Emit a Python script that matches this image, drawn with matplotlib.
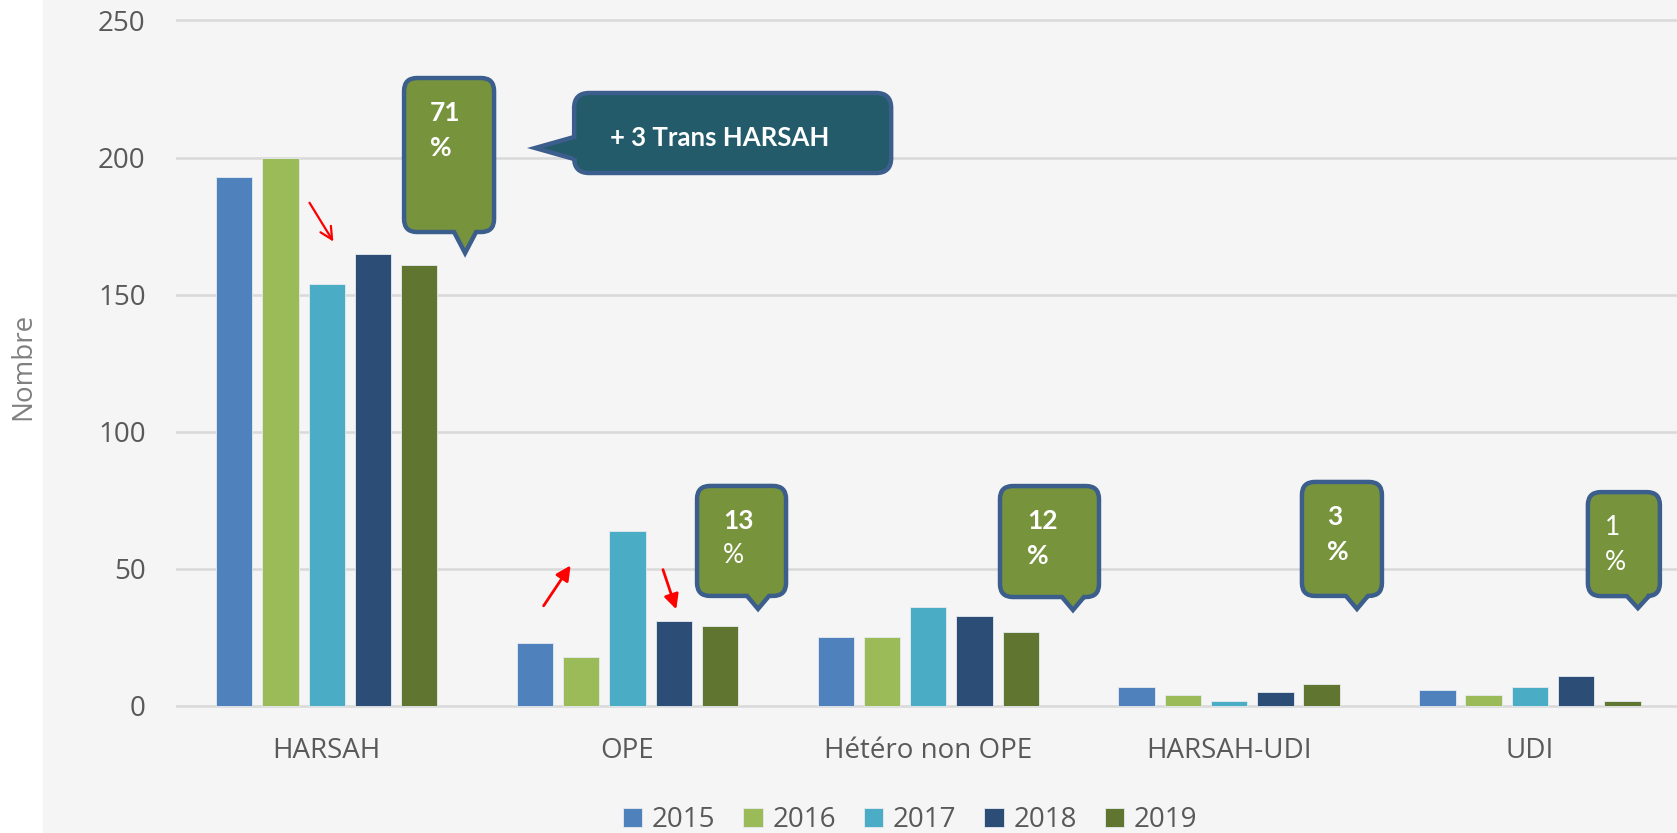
import matplotlib
matplotlib.use('Agg')
import matplotlib.pyplot as plt
import numpy as np
from matplotlib.path import Path
from matplotlib.patches import PathPatch, Rectangle
import matplotlib.transforms as mtransforms

# data
categories = ['HARSAH', 'OPE', 'Hétéro non OPE', 'HARSAH-UDI', 'UDI']
years = ['2015', '2016', '2017', '2018', '2019']
v2015 = [193, 23, 25, 7, 6]
v2016 = [200, 18, 25, 4, 4]
v2017 = [154, 64, 36, 2, 7]
v2018 = [165, 31, 33, 5, 11]
v2019 = [161, 29, 27, 8, 2]
shares = [71, 13, 12, 3, 1]   # % in the green bubbles
note = '+ 3 Trans HARSAH'

colors = ['#4f81bd', '#9bbb59', '#4bacc6', '#2c4d75', '#5f7530']
series = [v2015, v2016, v2017, v2018, v2019]

W, H = 1677, 833
fig = plt.figure(figsize=(W / 100, H / 100), dpi=100, facecolor='white')
# grey background, white strip on the left
fig.patches.append(Rectangle((43 / W, 0), 1, 1, transform=fig.transFigure,
                             color='#f5f5f5', zorder=-10))

# axes: 0 at y=706px, 250 at y=20.5px, x=-0.5 at 176px
ppu = (706 - 20.5) / 250.0
y_lo, y_hi = -1, 255
ax_bottom = H - (706 + ppu * (0 - y_lo))
ax_top = H - (706 - ppu * y_hi)
ax = fig.add_axes([176.3 / W, ax_bottom / H, (W - 176.3) / W, (ax_top - ax_bottom) / H])
ax.set_facecolor('none')
ax.set_xlim(-0.5, (W - 326.7) / 300.8)
ax.set_ylim(y_lo, y_hi)

x = np.arange(len(categories))
pitch = 0.1536
for j, (vals, c, yr) in enumerate(zip(series, colors, years)):
    ax.bar(x + (j - 2) * pitch, vals, width=0.121, color=c, label=yr,
           edgecolor='#e6ebf0', linewidth=0.6, zorder=3)

ax.set_yticks([0, 50, 100, 150, 200, 250])
ax.set_xticks(x)
ax.set_xticklabels(categories)
ax.yaxis.grid(True, color='#d9d9d9', linewidth=1.8)
ax.set_axisbelow(True)
for s in ax.spines.values():
    s.set_visible(False)
ax.tick_params(length=0, labelsize=20, labelcolor='#595959')
ax.tick_params(axis='y', pad=22)
ax.tick_params(axis='x', pad=20)
for lab in ax.get_xticklabels() + ax.get_yticklabels():
    lab.set_fontfamily('Open Sans')

fig.text(23 / W, 1 - 366 / H, 'Nombre', rotation=90, ha='center', va='center',
         fontsize=20, color='#808080', family='Open Sans')

leg = fig.legend(loc='center', bbox_to_anchor=(910 / W, 1 - 820 / H), ncol=5,
                 frameon=False, handlelength=0.7, handleheight=0.7,
                 handletextpad=0.35, columnspacing=1.0,
                 prop={'family': 'Open Sans', 'size': 20})
for t in leg.get_texts():
    t.set_color('#595959')

# red trend arrows (data coords)
ax.annotate('', xy=(0.027, 168.5), xytext=(-0.062, 184.4),
            arrowprops=dict(arrowstyle='->', color='red', lw=1.6, mutation_scale=22))
ax.annotate('', xy=(0.816, 52.1), xytext=(0.716, 35.7),
            arrowprops=dict(arrowstyle='-|>', color='red', lw=2, mutation_scale=22))
ax.annotate('', xy=(1.165, 34.3), xytext=(1.115, 50.7),
            arrowprops=dict(arrowstyle='-|>', color='red', lw=2, mutation_scale=22))

px2fig = mtransforms.Affine2D().scale(1.0 / W, 1.0 / H) + fig.transFigure


def to_px(xd, yd):
    disp = ax.transData.transform((xd, yd))
    return disp[0] * W / fig.bbox.width, disp[1] * H / fig.bbox.height


def bubble(L, R, B, T, r, tail, side):
    # rounded box in px (y up), tail = (base1, tip, base2) inserted on one side
    verts, codes = [], []

    def mv(p):
        verts.append(p); codes.append(Path.MOVETO)

    def ln(p):
        verts.append(p); codes.append(Path.LINETO)

    def cv(c, p):
        verts.extend([c, p]); codes.extend([Path.CURVE3, Path.CURVE3])

    mv((L + r, B))
    if side == 'bottom':
        for p in tail:
            ln(p)
    ln((R - r, B))
    cv((R, B), (R, B + r))
    ln((R, T - r))
    cv((R, T), (R - r, T))
    ln((L + r, T))
    cv((L, T), (L, T - r))
    if side == 'left':
        for p in tail:
            ln(p)
    ln((L, B + r))
    cv((L, B), (L + r, B))
    verts.append((L + r, B)); codes.append(Path.CLOSEPOLY)
    return Path(verts, codes)


edge = '#3b5e8c'
green = '#77933c'
tips = [(0.46, 165.2), (1.434, 35.4), (2.481, 35.0), (3.425, 35.4), (4.359, 35.7)]
boxes = [(-61, 29, 175, 21), (-61, 28, 123, 13), (-73, 26, 124, 13),
         (-55, 25, 127, 13), (-50, 22, 116, 12)]
text_dx = [26, 26, 27, 25, 17]
weights = [('bold', 'bold'), ('bold', 'normal'), ('bold', 'bold'),
           ('bold', 'bold'), ('normal', 'normal')]

for share, tip, (dl, dr, dt, db), tdx, (w1, w2) in zip(shares, tips, boxes, text_dx, weights):
    tx, ty = to_px(*tip)
    L, R, B, T = tx + dl, tx + dr, ty + db, ty + dt
    path = bubble(L, R, B, T, 13, [(tx - 11, B), (tx, ty), (tx + 11, B)], 'bottom')
    fig.add_artist(PathPatch(path, facecolor=green, edgecolor=edge, lw=3.2,
                             transform=px2fig, zorder=5))
    fig.text((L + tdx) / W, (T - 35) / H, str(share), color='white', fontsize=19,
             fontweight=w1, family='Lato', ha='left', va='center', zorder=6)
    fig.text((L + tdx) / W, (T - 70) / H, '%', color='white', fontsize=19,
             fontweight=w2, family='Lato', ha='left', va='center', zorder=6)

# dark note bubble pointing left
tx, ty = to_px(0.693, 203.5)
L, R, B, T = tx + 39, tx + 356, ty - 25, ty + 55
path = bubble(L, R, B, T, 15, [(L, ty + 11), (tx, ty), (L, ty - 11)], 'left')
fig.add_artist(PathPatch(path, facecolor='#235b6a', edgecolor=edge, lw=3.2,
                         transform=px2fig, zorder=5))
fig.text((L + 36) / W, (ty + 10) / H, note, color='white', fontsize=18.5,
         fontweight='bold', family='Lato', ha='left', va='center', zorder=6)

fig.savefig('out.png', dpi=100, facecolor=fig.get_facecolor())
